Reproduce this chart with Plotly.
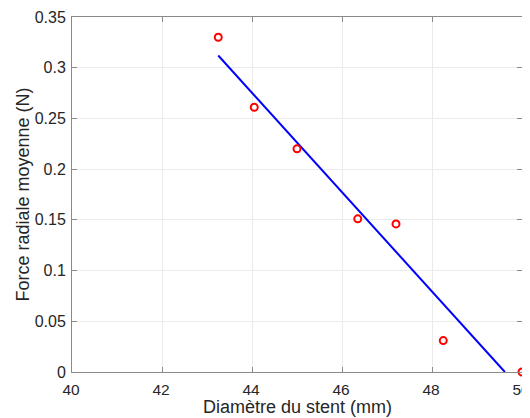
import plotly.graph_objects as go

diam = [43.25, 44.05, 45.0, 46.35, 47.2, 48.25, 50.0]
force = [0.330, 0.261, 0.220, 0.151, 0.146, 0.031, 0.0]
fit_x = [43.25, 49.62]
fit_y = [0.312, 0.0]

x_ticks = [40, 42, 44, 46, 48, 50]
y_ticks = [0, 0.05, 0.1, 0.15, 0.2, 0.25, 0.3, 0.35]
y_labels = ["0", "0.05", "0.1", "0.15", "0.2", "0.25", "0.3", "0.35"]

FONT = "Liberation Sans, Arial"
TXT = "#262626"

fig = go.Figure()
fig.add_trace(go.Scatter(x=fit_x, y=fit_y, mode="lines",
                         line=dict(color="#0000ff", width=2), showlegend=False))
fig.add_trace(go.Scatter(x=diam, y=force, mode="markers",
                         marker=dict(symbol="circle-open", size=7, color="#ff0000",
                                     line=dict(width=2, color="#ff0000")),
                         showlegend=False, cliponaxis=False))

axis_common = dict(showgrid=True, gridcolor="#ebebeb", gridwidth=1,
                   showline=True, linecolor="#8a8a8a", linewidth=1, mirror="ticks",
                   ticks="inside", ticklen=5, tickcolor="#8a8a8a",
                   zeroline=False, automargin=False)

# page body has an 8px margin; margins shifted accordingly
fig.update_layout(
    width=530, height=410,
    margin=dict(l=64, r=16, t=9, b=46),
    paper_bgcolor="white", plot_bgcolor="white",
    xaxis=dict(range=[40, 50], tickvals=x_ticks, ticktext=[str(v) for v in x_ticks],
               ticklabelstandoff=3, ticklabelshift=-1,
               tickfont=dict(family=FONT, size=15.5, color=TXT), **axis_common),
    yaxis=dict(range=[0, 0.35], tickvals=y_ticks, ticktext=y_labels,
               ticklabelstandoff=2,
               tickfont=dict(family=FONT, size=16, color=TXT), **axis_common),
    annotations=[
        dict(text="Diamètre du stent (mm)", xref="paper", yref="paper",
             x=0.5, y=-35 / 355, xanchor="center", yanchor="middle", showarrow=False,
             font=dict(family=FONT, size=18, color=TXT)),
        dict(text="Force radiale moyenne (N)", xref="paper", yref="paper",
             x=-50 / 450, y=0.5, xanchor="center", yanchor="middle", showarrow=False,
             textangle=-90, font=dict(family=FONT, size=18, color=TXT)),
    ],
)

fig.write_html("out.html")
